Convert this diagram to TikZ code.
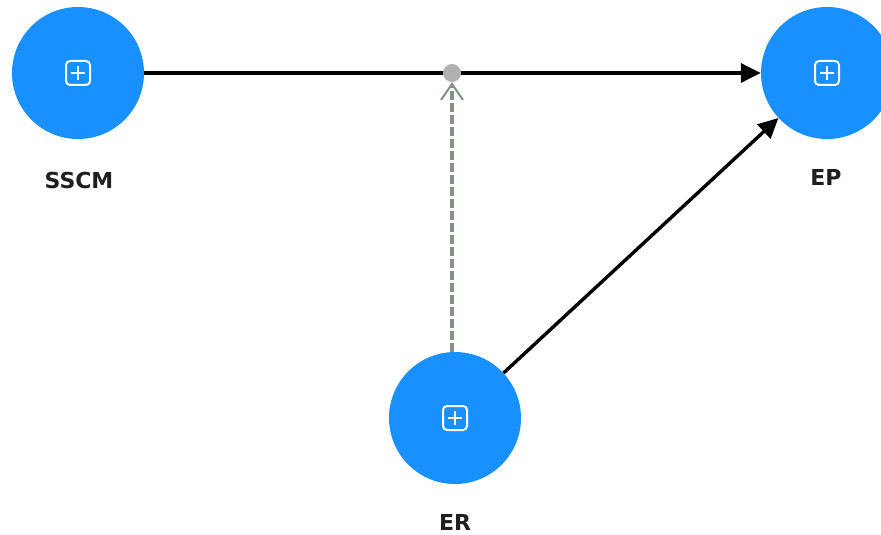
\documentclass[tikz,border=0pt]{standalone}
\usepackage{fontspec}
\setmainfont{DejaVu Sans}
\usetikzlibrary{arrows.meta}
\definecolor{lvblue}{RGB}{24,144,255}
\definecolor{modgreen}{RGB}{128,150,128}
\definecolor{moddot}{RGB}{176,176,176}
\tikzset{
  latent/.style={circle, fill=lvblue, draw=none, minimum size=132pt, inner sep=0pt,
    path picture={
      \draw[white, line width=2pt, rounded corners=4pt]
        ([shift={(-12pt,-12pt)}]path picture bounding box.center) rectangle ++(24pt,24pt);
      \draw[white, line width=2pt]
        ([shift={(-7pt,0pt)}]path picture bounding box.center) -- ++(14pt,0pt)
        ([shift={(0pt,-7pt)}]path picture bounding box.center) -- ++(0pt,14pt);
    }},
  lvname/.style={font=\bfseries\fontsize{22}{26}\selectfont, text=black!88, inner sep=0pt},
  path/.style={draw=black, line width=3.4pt, -{Triangle[length=20pt,width=19pt]}},
  modline/.style={draw=modgreen, line width=3.2pt, dash pattern=on 9pt off 3pt,
    -{Straight Barb[length=16pt,width=22pt,line width=2pt]}},
  moddotstyle/.style={circle, fill=moddot, minimum size=18pt, inner sep=0pt}
}
\begin{document}
\begin{tikzpicture}[x=1pt,y=-1pt]
  \useasboundingbox (0,0) rectangle (881,535);
  \clip (0,0) rectangle (881,535);

  % latent variables
  \node[latent] (sscm) at (78,73) {};
  \node[latent] (ep)   at (827,73) {};
  \node[latent] (er)   at (455,418) {};

  \node[lvname] (sscmname) at (79,180) {SSCM};
  \node[lvname] (epname)   at (826,177) {EP};
  \node[lvname] (ername)   at (455,522) {ER};

  % structural paths
  \draw[path] (sscm) -- (ep);
  \draw[path] (er) -- (ep);

  % moderating effect on the SSCM -> EP path
  \node[moddotstyle] (mod) at (452,73) {};
  \draw[modline] (er.north -| mod) -- (mod.south);
\end{tikzpicture}
\end{document}
